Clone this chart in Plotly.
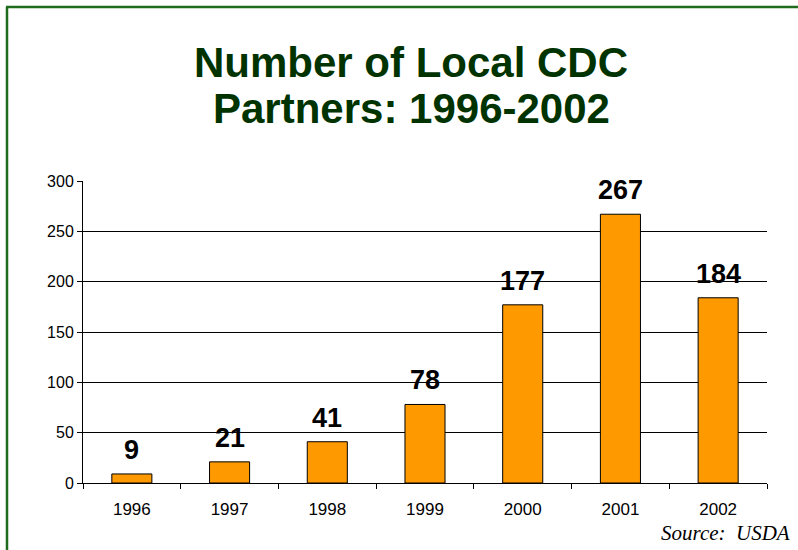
import plotly.graph_objects as go

years = ["1996", "1997", "1998", "1999", "2000", "2001", "2002"]
partners = [9, 21, 41, 78, 177, 267, 184]
title_lines = ["Number of Local CDC", "Partners: 1996-2002"]
source = "Source:  USDA"

L, R, T, B = 83, 31, 181, 67
W, H = 798, 550
pw, ph = W - L - R, H - T - B

def px_x(x):
    return (x - L) / pw

def px_y(y):
    return (H - B - y) / ph

fig = go.Figure(go.Bar(
    x=years, y=partners,
    marker=dict(color="#FF9900", line=dict(color="black", width=1)),
    cliponaxis=False,
))

# value labels: category index on the category axis
for i, v in enumerate(partners):
    fig.add_annotation(x=i, y=v, text=f"<b>{v}</b>", showarrow=False,
                       yanchor="bottom", yshift=7,
                       font=dict(family="Arial", size=27, color="black"))

fig.update_layout(
    width=W, height=H,
    margin=dict(l=L, r=R, t=T, b=B),
    paper_bgcolor="white", plot_bgcolor="white",
    bargap=0.59,
    showlegend=False,
    font=dict(family="Arial", size=16, color="black"),
)
for line, yc in zip(title_lines, [62, 108]):
    fig.add_annotation(text=f"<b>{line}</b>", xref="paper", yref="paper",
                       x=px_x(411), y=px_y(yc), xanchor="center", yanchor="middle",
                       showarrow=False,
                       font=dict(family="Arial", size=42, color="#003300"))

fig.update_yaxes(range=[0, 300], dtick=50, showgrid=True, gridcolor="black", gridwidth=1,
                 showline=True, linecolor="black", linewidth=1, ticks="outside", ticklen=5,
                 tickcolor="black", zeroline=False, tickfont=dict(size=16))
fig.update_xaxes(type="category", categoryorder="array", categoryarray=years,
                 range=[-0.5, len(years) - 0.5],
                 showline=True, linecolor="black", linewidth=1,
                 ticks="outside", ticklen=5, tickcolor="black", tickson="boundaries",
                 ticklabelstandoff=11,
                 showgrid=False, tickfont=dict(size=17), tickangle=0)

fig.add_shape(type="line", xref="paper", yref="paper", x0=px_x(7), x1=px_x(7),
              y0=px_y(7), y1=px_y(560), line=dict(color="#1E6B1E", width=2.5))
fig.add_shape(type="line", xref="paper", yref="paper", x0=px_x(6), x1=px_x(810),
              y0=px_y(7), y1=px_y(7), line=dict(color="#1E6B1E", width=2.5))

fig.add_annotation(text=source, xref="paper", yref="paper",
                   x=px_x(792), y=px_y(533), xanchor="right", yanchor="middle",
                   showarrow=False,
                   font=dict(family="Liberation Serif", size=21, color="black", style="italic"))

fig.write_html("out.html", config={"displayModeBar": False},
               post_script="document.body.style.margin='0';document.body.style.padding='0';")
